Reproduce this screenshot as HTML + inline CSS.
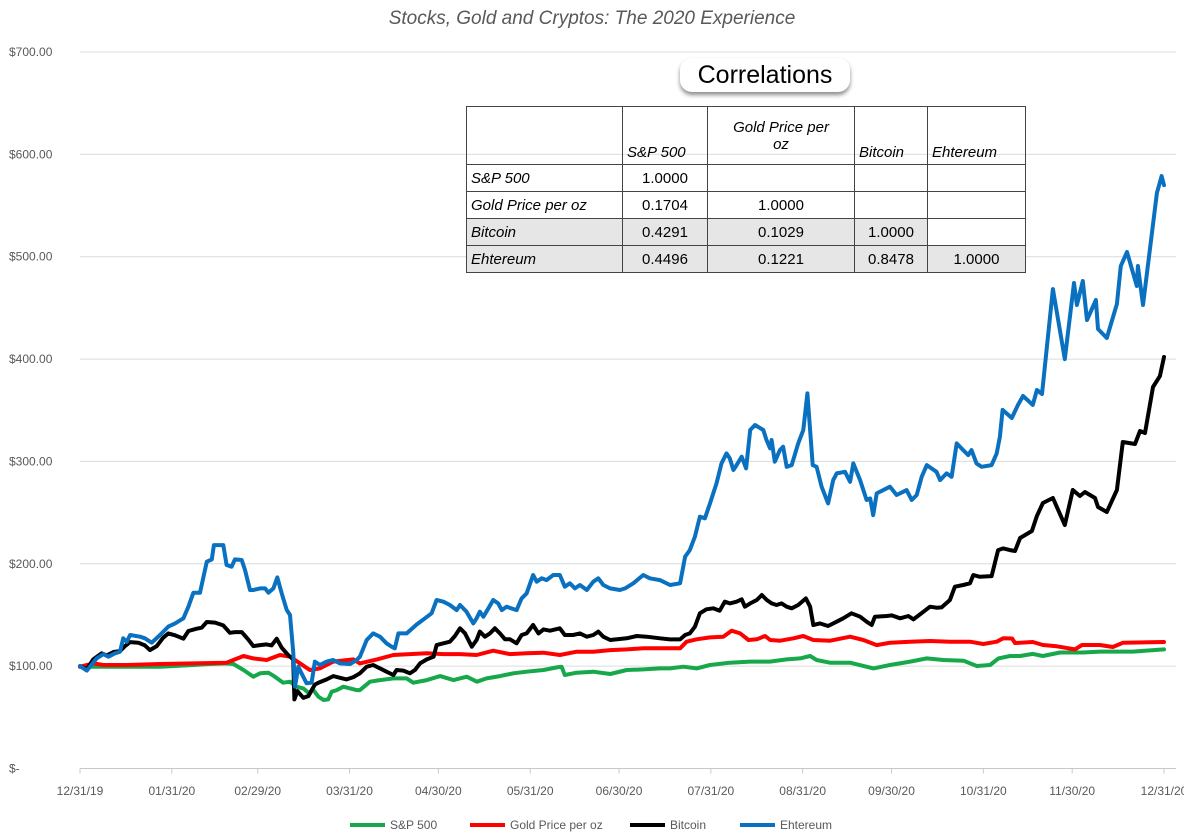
<!DOCTYPE html>
<html><head><meta charset="utf-8"><style>
body{margin:0;background:#fff;width:1184px;height:835px;overflow:hidden;font-family:"Liberation Sans",sans-serif;}
svg{position:absolute;left:0;top:0}
#tbl{position:absolute;left:466px;top:106px;border-collapse:collapse;font-size:15px;color:#000}
#tbl td{border:1.5px solid #444;padding:0 4px;height:26px;text-align:center}
#tbl td.l{text-align:left;font-style:italic}
#tbl tr.g td{background:#e6e6e6}
#corr{position:absolute;left:680px;top:58px;width:170px;height:34px;border-radius:12px;background:#fff;box-shadow:0 3px 4px rgba(0,0,0,.45);font-size:25px;text-align:center;line-height:34px}
</style></head><body>
<svg id="chart" width="1184" height="835"></svg>
<div id="corr">Correlations</div>
<table id="tbl">
<tr style="height:58px"><td style="width:147px"></td><td class="l" style="width:76px;vertical-align:bottom;padding-bottom:3px">S&amp;P 500</td><td style="width:138px;font-style:italic">Gold Price per<br>oz</td><td class="l" style="width:64px;vertical-align:bottom;padding-bottom:3px">Bitcoin</td><td class="l" style="width:89px;vertical-align:bottom;padding-bottom:3px">Ehtereum</td></tr>
<tr><td class="l">S&amp;P 500</td><td>1.0000</td><td></td><td></td><td></td></tr>
<tr><td class="l">Gold Price per oz</td><td>0.1704</td><td>1.0000</td><td></td><td></td></tr>
<tr class="g"><td class="l">Bitcoin</td><td>0.4291</td><td>0.1029</td><td>1.0000</td><td style="background:#fff"></td></tr>
<tr class="g"><td class="l">Ehtereum</td><td>0.4496</td><td>0.1221</td><td>0.8478</td><td>1.0000</td></tr>
</table>
<script>
const yTicks=[0,100,200,300,400,500,600,700];
const xTickDays=[0,31,60,91,121,152,182,213,244,274,305,335,366];
const xTickLabels=["12/31/19","01/31/20","02/29/20","03/31/20","04/30/20","05/31/20","06/30/20","07/31/20","08/31/20","09/30/20","10/31/20","11/30/20","12/31/20"];
const seriesNames=["S&P 500","Gold Price per oz","Bitcoin","Ehtereum"];
const seriesColors=["#16a84a","#ff0000","#000000","#0a70c0"];
const spDays=[0,4.5,15.8,27,38.3,43.9,49.5,51.8,55.2,58.5,60.8,63.6,65.8,68.6,70.9,73.1,75.4,77.1,78.8,80.5,82.2,83.8,85,86.7,88.9,91.2,93.4,94.5,97.9,101.3,105.8,110.3,112.5,117.1,121.6,126.1,130.6,134,137.3,141.8,146.3,150.8,156.5,161,162.6,163.7,167.7,173.3,179,184.6,190.2,195.8,199.2,203.7,208.2,212.7,219.4,226.2,232.9,238.6,243.1,246.5,248.7,253.2,260,267.9,273.5,280.3,285.9,291.5,298.3,302.8,307.3,310.1,314,317.4,321.7,325.1,330.9,338.6,344.4,355.5,366];
const spVals=[99.5,99.5,99.5,99.5,101.1,102.1,102.7,102.1,96.2,89.7,93,93.6,89.7,83.8,84.8,79.9,78.3,74,76.6,70.1,66.9,67.5,75,76.6,79.9,78.3,76.6,76.6,84.8,86.4,88,88,83.8,86.4,90.3,86.4,89.7,84.8,88,90.3,93,94.6,96.2,98.8,99.5,91.3,93.6,94.6,92.3,96.2,96.8,97.8,97.8,99.5,97.8,101.1,103.4,104.4,104.4,106.6,107.6,109.9,106,103.4,103.4,97.8,101.1,104.4,107.6,106,105.3,100.1,101.1,107.6,109.9,109.9,112,109.9,113.3,113.3,114.2,114.2,116.4];
const goldDays=[0,4.5,7.9,15.8,27,38.3,49.5,51.8,55.2,58.5,63,67.5,70.9,74.3,77.6,81,85.5,92.3,94.5,100.2,105.8,111.4,117.1,122.7,128.3,133.9,139.5,145.2,150.8,156.5,162,167.7,173.3,179,184.6,190.2,195.8,199.2,202.6,204.8,208.2,212.7,217.2,220,222.9,225.7,228.5,231.3,233,236.4,240.9,244.2,247.6,253.3,260,264.5,269,273.5,280.3,287,293.7,300.5,305,309.5,311.7,314.7,315.7,321.7,325.1,329.8,335.9,338.3,344.4,348.7,352.1,366];
const goldVals=[99.5,102.7,101.1,101.1,102.1,102.7,103.4,106,109.9,107.6,106,110.9,109.2,102.7,96.2,97.8,104.4,106.6,102.7,106.6,110.9,111.8,112.5,111.8,111.8,110.9,115.1,111.8,112.5,113.1,110.9,114.1,114.1,115.7,116.4,117.4,117.4,117.4,117.4,123.9,126.2,128.1,128.8,134.6,132,125.5,126.2,129.4,125.5,124.9,127.2,129.4,125.5,124.9,128.8,125.5,120.6,122.9,123.9,124.6,123.9,123.9,121.6,123.9,127.2,127,122.6,123.6,120.7,119.4,116.4,120.7,120.7,118.7,122.8,123.6];
const btcDays=[0,2.3,4.5,7.3,9,11.3,13.5,15.2,16.9,19.7,21.9,23.6,25.9,28.1,29.8,32.1,34.9,36.6,39.4,41.1,42.8,45.6,48.4,50.6,52.3,54.6,56.8,58.5,60.8,63,64.7,66.4,68.1,70.4,72,72.4,73.4,75.4,77.1,79.3,81,83.3,85.5,87.8,90,92.3,94.5,96.8,99,101.3,103.5,105.8,106.9,109.2,111.4,113.1,114.8,117.1,119.4,120.4,122.7,124.9,126.6,128.3,130,132.3,133.9,135,136.7,138.4,140.1,141.8,143.5,145.2,147.4,149.1,150.8,153,154.8,156.5,158.7,162,163.7,166.5,168.8,171.1,173.3,175,176.7,179,184.6,188,191.3,195.8,199.2,202.6,204.3,205.9,207.6,209.3,211.5,213.8,216,217.7,219.4,221.7,223.4,224.5,226.3,228.5,230.2,231.9,233.5,235.2,236.9,238.6,240.3,242.5,245.1,246.5,247.6,249.8,252.6,255.5,257.7,260.5,263.4,265.6,267.3,268.4,272.4,274.1,276.9,279.7,281.4,284.8,287,289.2,290.9,293.7,295.4,298.2,300.5,301.6,303.8,307.8,310,311.7,314,315.7,317.4,321.4,323.1,325.1,328.5,332.5,335.2,337.6,339.3,342.7,343.7,346.7,350.1,352.1,356.2,357.9,359.6,362.3,364.6,366];
const btcVals=[100,96.8,106.6,112.5,110.5,113.8,114.7,119.6,123.5,122.9,120.3,115.7,119.6,127.8,132,130.1,126.8,134.3,136.6,137.6,143.1,142.5,139.8,132.6,133.3,133.3,126.1,119.6,120.6,121.2,120.3,126.8,118,110.5,106.6,67.5,75.6,69.1,70.7,82.1,84.4,87,90.3,88.6,87,89.3,93,99.5,101.1,97.8,94.6,91.3,96.2,95.6,93,96.2,102.7,106.6,109.2,120.6,122.3,123.9,129.5,137,132.1,119,125.5,133.7,128.8,132,137,132,126.2,126.2,122.3,130.4,132,140.2,132,135.9,134.6,137,130.4,130.4,132,128.8,130.4,133.7,128.8,125.5,127.2,129.4,128.8,127.2,126.1,126.1,130.4,132,138.5,151.6,155.5,156.5,154.2,163,161.3,163,165.3,158.1,161.3,164.6,169.5,164.6,161.3,159.7,161.3,158.1,156.5,159.7,166.2,158.1,140.2,141.8,139.2,143.4,146.7,151.6,148.3,143.4,140.2,148.3,149,149.6,146.7,149,145.7,153.2,158.1,157.1,157.4,164.6,177.6,179.3,180.9,189,187.3,188,213.4,215,213.4,212.5,225.2,232,246.7,259.4,264.3,237.9,272.1,266.2,270.1,264.3,255.5,250.6,272.1,319,317,329.7,327.8,372.7,383.4,402];
const ethDays=[0,2.3,5.6,7.9,9.6,11.8,13.5,14.6,15.8,16.9,20.3,21.9,24.2,27,29.8,32.1,34.9,36.6,38.3,40.5,42.8,44.5,45.2,48.4,49.5,51.2,52.3,54.6,55.7,57.4,58.5,60.8,62.5,63.6,65.3,66.6,68.1,69.8,70.9,72,72.6,73.7,74.8,76.5,78.2,79.3,81,83.3,85.5,87.8,91.2,93.4,94.5,96.8,99,101.3,103.5,105.2,106.3,107.5,110.3,113.7,116.5,118.7,120.4,122.7,124.9,127.2,128.3,130.5,132.8,133.9,135,136.2,137.9,139.5,141.2,142.4,144,147.4,149.1,150.8,153,154.2,155.9,157.5,159.8,162,163.7,165.4,167.1,168.8,171.1,173.3,175,176.7,179,182.3,184,186.8,190.2,192.4,195.8,199.2,202.6,204.3,205.9,207.6,209.3,211,212.7,214.9,216.6,218.3,219.4,220.6,221.7,223.4,224.9,226.3,227.9,230.7,231.8,233,233.5,234.6,236.3,237.4,238.6,240.3,242.5,244.2,245.6,247.4,248.7,250.4,252.6,254.3,255.5,258.3,260,261.1,263.4,265.6,266.8,267.8,269,273.5,275.7,278,279.1,280.8,282.5,284.2,285.9,287.5,289.2,290.4,292.6,294.3,296,298.2,299.9,301,302.7,304.4,307.8,309.5,310.6,311.5,314.6,316.7,318.4,321.7,323.1,324.8,328.5,332.5,335.6,336.6,338.6,340,343,343.7,346.7,350.1,351.4,353.5,356.8,357.2,358.9,363.6,365.2,366];
const ethVals=[100,95.6,107.6,111.8,109.2,112.5,114.1,127.2,123.9,130.4,128.8,127.2,122.9,130.4,138.6,141.8,146.7,158.1,171.8,171.8,202,204.3,218.3,218.3,198.8,197.2,204.3,203.7,193.9,174.4,174.4,176,176,171.8,176,186.7,171.2,154.9,150,114.1,79.9,99.5,93,83.2,83.8,104.4,101.1,104.4,106,102.7,102.1,106,109.2,125.5,132,128.8,122.3,119,117.4,132,132,140.8,146.7,151.6,164.6,163,159.7,154.8,159.7,153.2,141.8,146.7,153.2,148.3,156.5,164.6,161.3,154.8,158.1,154.8,166.2,171.1,189,182.5,185.8,184.1,189,189,177.6,180.9,176,179.3,174.4,182.5,185.8,179.3,176,174.4,176,180.9,189,185.8,184.1,179.3,180.9,206.9,213.4,226.5,246,244.4,259,278.5,298.1,307.8,303,291.6,296.4,304.6,293.2,330.7,335.6,330.7,320.9,312.8,320.9,299.7,311.1,314.4,294.8,296.4,317.6,330.7,366.5,296.4,294.8,275.3,259,281.8,288.3,289.9,280.1,298.1,281.8,262.3,263.9,247.6,268.8,275.3,267.2,270.4,272,262.3,267.2,285,296.4,293.2,289.9,281.8,288.3,285,317.6,311.1,306.2,311.1,298.1,294.8,296.4,307.8,324.2,350.3,342.4,355.2,363.9,355.2,369.8,365.9,468.4,400,474.3,452.8,476.3,438.2,457.7,429.4,420.6,453.8,490.9,504.6,471.4,490.9,452.8,562.2,578.8,570];

const NS="http://www.w3.org/2000/svg";
const svg=document.getElementById('chart');
const X0=80,X1=1164,Y0=768.5,Y1=52;
function xs(d){return X0+(X1-X0)*d/366;}
function ys(v){return Y0-(Y0-Y1)*v/700;}
function mk(t,a){const e=document.createElementNS(NS,t);for(const k in a)e.setAttribute(k,a[k]);svg.appendChild(e);return e;}
function fmt(v){return v===0?"$-":"$"+v.toFixed(2);}

const title=mk('text',{x:592,y:24,'text-anchor':'middle','font-size':19,'font-style':'italic',fill:'#595959','font-family':'Liberation Sans, sans-serif'});
title.textContent="Stocks, Gold and Cryptos: The 2020 Experience";



yTicks.forEach(v=>{
  const g=mk('line',{x1:X0,x2:1176,y1:ys(v),y2:ys(v),stroke:v===0?'#c8c8c8':'#dcdcdc','stroke-width':1});
  
  
  const t=mk('text',{x:9,y:ys(v)+4,'font-size':12,fill:'#595959','font-family':'Liberation Sans, sans-serif'});
  t.textContent=fmt(v);
  
  
});
xTickDays.forEach((d,i)=>{
  const tk=mk('line',{x1:xs(d),x2:xs(d),y1:Y0,y2:Y0+5,stroke:'#c8c8c8'});
  
  
  const t=mk('text',{x:xs(d),y:795,'text-anchor':'middle','font-size':12,fill:'#595959','font-family':'Liberation Sans, sans-serif'});
  t.textContent=xTickLabels[i];
  
  
});
const allDays=[spDays,goldDays,btcDays,ethDays];
const allVals=[spVals,goldVals,btcVals,ethVals];
const lineNames=['sp500-line','gold-line','bitcoin-line','ethereum-line'];
for(let s=0;s<4;s++){
  const pts=allDays[s].map((d,i)=>xs(d).toFixed(1)+","+ys(allVals[s][i]).toFixed(1)).join(" ");
  const p=mk('polyline',{points:pts,fill:'none',stroke:seriesColors[s],'stroke-width':4,'stroke-linejoin':'round','stroke-linecap':'round'});
  
  
}
const legX=[350,470,630,740];
for(let s=0;s<4;s++){
  const l=mk('line',{x1:legX[s],x2:legX[s]+35,y1:825,y2:825,stroke:seriesColors[s],'stroke-width':4});
  
  
  const t=mk('text',{x:legX[s]+40,y:829,'font-size':12,fill:'#595959','font-family':'Liberation Sans, sans-serif'});
  t.textContent=seriesNames[s];
  
  
}
</script>
</body></html>
